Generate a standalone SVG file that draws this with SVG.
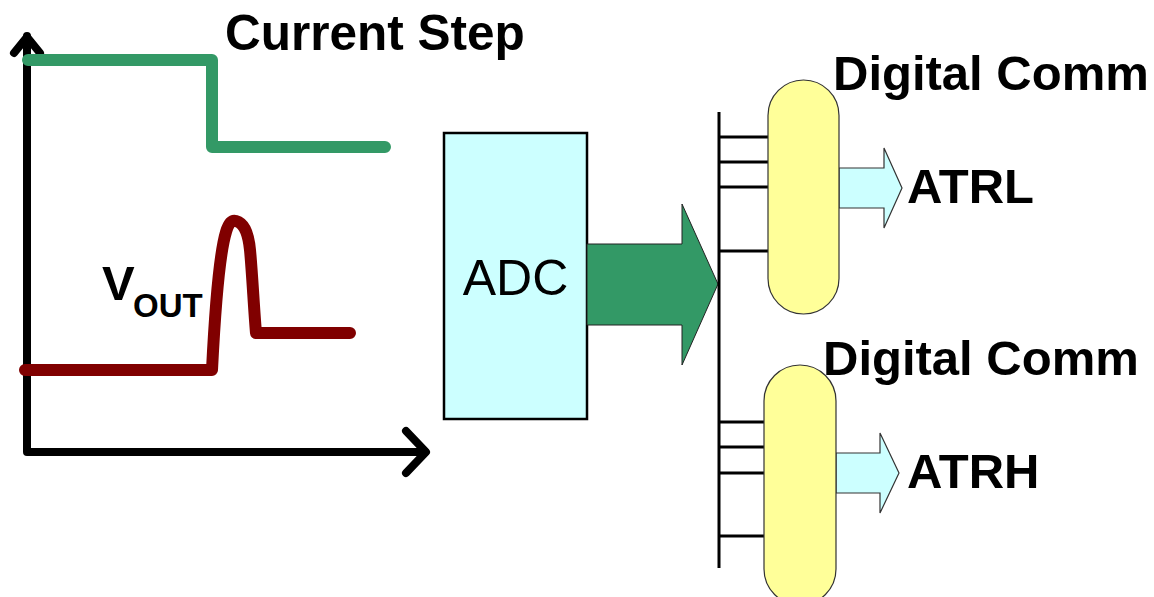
<svg xmlns="http://www.w3.org/2000/svg" width="1154" height="597" viewBox="0 0 1154 597">
<style>
.lbl{font-family:"Liberation Sans",Arial,sans-serif;font-weight:bold;fill:#000}
.reg{font-family:"Liberation Sans",Arial,sans-serif;fill:#000}
.axis{fill:none;stroke:#000;stroke-width:8;stroke-linecap:round;stroke-linejoin:round}
.tick{stroke:#000;stroke-width:3}
.cap{fill:#ffff99;stroke:#333;stroke-width:1.2}
.out{fill:#ccffff;stroke:#333;stroke-width:1.2}
</style>
<rect width="1154" height="597" fill="#fff"/>
<g id="chart">
<path class="axis" d="M27,36 V452 H425"/>
<polyline class="axis" points="14,53 27,37 40,53"/>
<polyline class="axis" points="406,431 426,452 406,473"/>
<path d="M28,60 H212 V147 H385" fill="none" stroke="#339966" stroke-width="12" stroke-linecap="round" stroke-linejoin="round"/>
<path d="M25,370 H212 C215,310 219,255 226,232 C229,222 232,220 236,221 C243,223 248,230 250,250 C252,270 254,310 256,333 H350" fill="none" stroke="#800000" stroke-width="12" stroke-linecap="round" stroke-linejoin="round"/>
<text class="lbl" x="225" y="50" font-size="49.5">Current Step</text>
<text class="lbl" x="102" y="300" font-size="49">V</text>
<text class="lbl" x="133" y="317" font-size="33">OUT</text>
</g>
<g id="adc">
<rect x="444" y="133" width="143" height="286" fill="#ccffff" stroke="#000" stroke-width="2.5"/>
<text class="reg" x="515.5" y="295" font-size="50" text-anchor="middle">ADC</text>
</g>
<g id="connectors">
<polygon points="587,244 682,244 682,204 718,284 682,365 682,325 587,325" fill="#339966" stroke="#222" stroke-width="1"/>
<line x1="719" y1="112" x2="719" y2="568" stroke="#000" stroke-width="3"/>
<line class="tick" x1="719" y1="137" x2="768" y2="137"/>
<line class="tick" x1="719" y1="162" x2="768" y2="162"/>
<line class="tick" x1="719" y1="187" x2="768" y2="187"/>
<line class="tick" x1="719" y1="251" x2="768" y2="251"/>
<line class="tick" x1="719" y1="422" x2="765" y2="422"/>
<line class="tick" x1="719" y1="447" x2="765" y2="447"/>
<line class="tick" x1="719" y1="473" x2="765" y2="473"/>
<line class="tick" x1="719" y1="536" x2="765" y2="536"/>
<polygon class="out" points="839,168 884,168 884,148 902,188 884,228 884,208 839,208"/>
<polygon class="out" points="836,453 880,453 880,433 899,473 880,513 880,493 836,493"/>
</g>
<g id="comm1">
<rect class="cap" x="768" y="80" width="71" height="234" rx="35.5" ry="35.5"/>
<text class="lbl" x="833" y="90" font-size="49">Digital Comm</text>
<text class="lbl" x="907" y="203" font-size="49">ATRL</text>
</g>
<g id="comm2">
<rect class="cap" x="764" y="365" width="72" height="240" rx="36" ry="36"/>
<text class="lbl" x="823" y="375" font-size="49">Digital Comm</text>
<text class="lbl" x="907" y="488" font-size="49">ATRH</text>
</g>
</svg>
